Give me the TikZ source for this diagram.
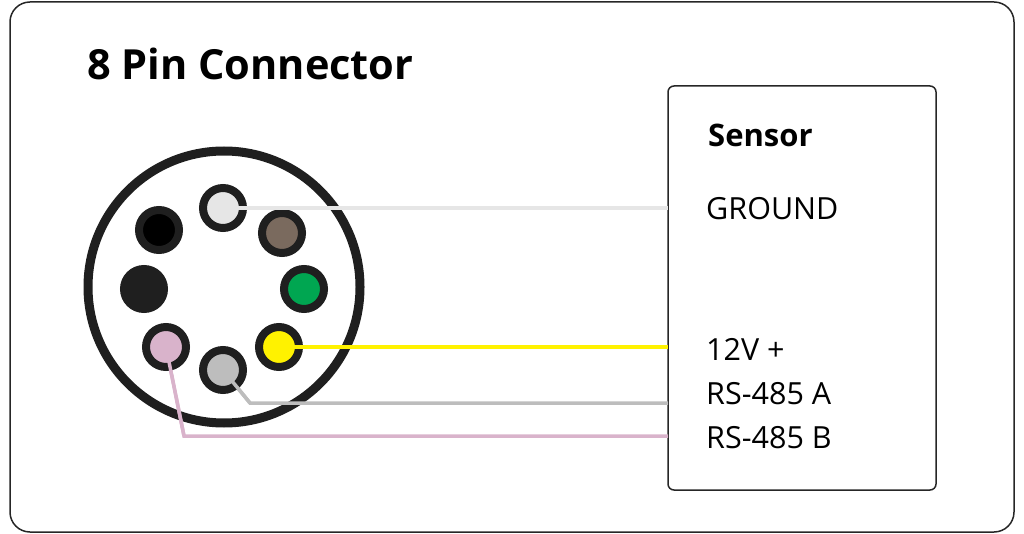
\documentclass[tikz,border=0pt]{standalone}
\usepackage{fontspec}
\setmainfont{Open Sans}
\begin{document}
\begin{tikzpicture}[x=1pt,y=-1pt,
  pin/.style={circle,draw=black!88,line width=8pt,minimum size=40pt,inner sep=0pt},
  wire/.style={line width=3.5pt},
  lbl/.style={anchor=west,font=\fontsize{30.5}{34}\selectfont,inner sep=0pt}]
\definecolor{pbrown}{HTML}{7A6A5E}\definecolor{pgreen}{HTML}{00A651}
\definecolor{pyellow}{HTML}{FFF200}\definecolor{pgray}{HTML}{BDBDBD}
\definecolor{ppink}{HTML}{D9B3CB}\definecolor{pwhite}{HTML}{E6E6E6}
\useasboundingbox (0,0) rectangle (1024,534);
\draw[line width=1.5pt,black!85,rounded corners=20pt] (10,2) rectangle (1014,532);
\node[anchor=base west,font=\bfseries\fontsize{41.5}{46}\selectfont,inner sep=0pt] (title) at (87,80) {8 Pin Connector};
\draw[line width=1.5pt,black!85,rounded corners=6pt] (668,86) rectangle (936,490);
\node[anchor=base west,font=\bfseries\fontsize{31}{34}\selectfont,inner sep=0pt] (sensor) at (708,147) {Sensor};
\node[lbl,anchor=base west] (gnd) at (706,220) {GROUND};
\node[lbl,anchor=base west] (v12) at (706,360) {12V +};
\node[lbl,anchor=base west] (ra) at (706,404) {RS-485 A};
\node[lbl,anchor=base west] (rb) at (706,448) {RS-485 B};
\node[circle,draw=black!88,line width=9pt,minimum size=272pt,inner sep=0pt] (conn) at (224,287) {};
\coordinate (wg) at (668,208);\coordinate (wy) at (668,347);
\coordinate (wa1) at (250,403);\coordinate (wa) at (668,403);
\coordinate (wb1) at (184,436);\coordinate (wb) at (668,436);
\draw[wire,pwhite] (223,208) -- (wg);
\draw[wire,pyellow] (279,347) -- (wy);
\draw[wire,pgray] (223,370) -- (wa1) -- (wa);
\draw[wire,ppink] (166,347) -- (wb1) -- (wb);
\node[pin,fill=pwhite] (p1) at (223,208) {};
\node[pin,fill=pbrown] (p2) at (282,233) {};
\node[pin,fill=pgreen] (p3) at (304,289) {};
\node[pin,fill=pyellow] (p4) at (279,347) {};
\node[pin,fill=pgray] (p5) at (223,370) {};
\node[pin,fill=ppink] (p6) at (166,347) {};
\node[pin,fill=black!88] (p7) at (144,289) {};
\node[pin,fill=black] (p8) at (159,230) {};
\draw[wire,pwhite] (p1.center) -- (wg);
\draw[wire,pyellow] (p4.center) -- (wy);
\draw[wire,pgray] (p5.center) -- (wa1);
\draw[wire,ppink] (p6.center) -- (wb1);
\end{tikzpicture}
\end{document}
